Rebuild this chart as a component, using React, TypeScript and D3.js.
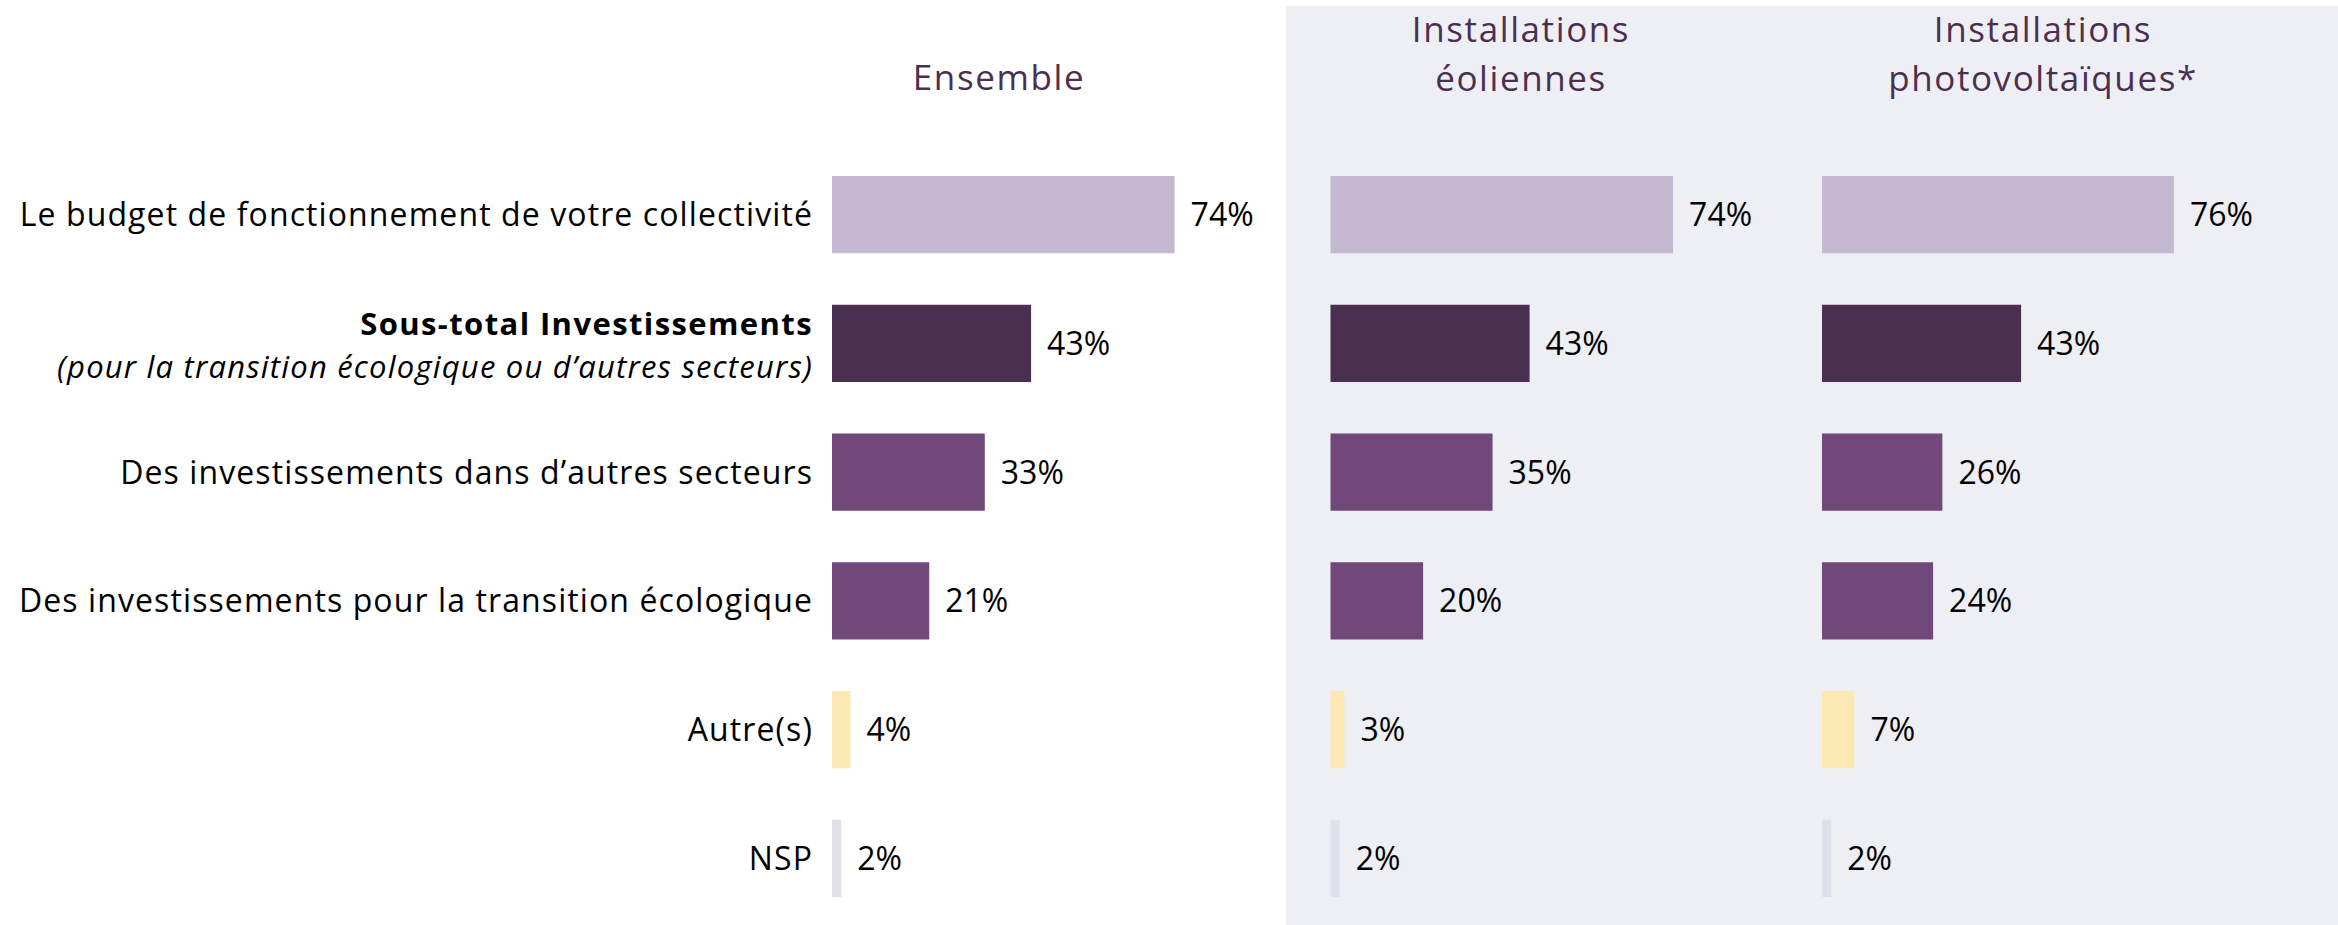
import React from 'react'
import * as d3 from 'd3'

// catégories (lignes)
const categories = [
  'Le budget de fonctionnement de votre collectivité',
  'Sous-total Investissements',
  'Des investissements dans d’autres secteurs',
  'Des investissements pour la transition écologique',
  'Autre(s)',
  'NSP'
]
const subtotalNote = '(pour la transition écologique ou d’autres secteurs)'

// en-têtes de colonnes
const columnTitles = [['Ensemble'], ['Installations', 'éoliennes'], ['Installations', 'photovoltaïques*']]

// valeurs en %
const ensembleValues = [74, 43, 33, 21, 4, 2]
const eoliennesValues = [74, 43, 35, 20, 3, 2]
const photovoltaiqueValues = [76, 43, 26, 24, 7, 2]
const seriesValues = [ensembleValues, eoliennesValues, photovoltaiqueValues]

const barColors = ['#c4b9d1', '#4b2f50', '#71487a', '#71487a', '#fce8b3', '#dfe0ea']

const W = 2338
const H = 925
const FONT = "'Open Sans', sans-serif"

// position de départ des barres pour chaque colonne, et centre des titres
const colX = [832, 1330.5, 1822]
const titleX = [999, 1521, 2043]

export default function App() {
  const y = d3.scaleBand<string>()
    .domain(categories)
    .range([176, 897])
    .paddingInner(0.4)
    .paddingOuter(0)

  const x = d3.scaleLinear().domain([0, 100]).range([0, 463])

  return (
    <div style={{ position: 'absolute', left: 0, top: 0 }}>
      <svg width={W} height={H} style={{ display: 'block', background: '#fff' }}>
        {/* panneau gris */}
        <rect x={1286} y={6} width={W - 1286} height={H - 6} fill="#eeeff5" />

        {/* titres */}
        {columnTitles.map((lines, ci) => (
          <text key={ci} x={titleX[ci]} textAnchor="middle" fill="#4a3050"
            fontFamily={FONT} fontSize={35} letterSpacing={1.6}>
            {lines.map((l, li) => (
              <tspan key={li} x={titleX[ci]} y={lines.length === 1 ? 90 : 42 + li * 49}>{l}</tspan>
            ))}
          </text>
        ))}

        {/* libellés des catégories */}
        {categories.map((c, i) => {
          const cy = (y(c) || 0) + y.bandwidth() / 2
          if (i === 1) {
            return (
              <text key={c} textAnchor="end" fontFamily={FONT} fontSize={31} fill="#000">
                <tspan x={813} y={cy - 8} fontWeight={700} letterSpacing={1.4}>{c}</tspan>
                <tspan x={813} y={cy + 34.5} fontStyle="italic" letterSpacing={1.2}>{subtotalNote}</tspan>
              </text>
            )
          }
          return (
            <text key={c} x={813} y={cy} dy="0.36em" textAnchor="end" fontFamily={FONT}
              fontSize={32} letterSpacing={1.1} fill="#000">{c}</text>
          )
        })}

        {/* barres */}
        {seriesValues.map((vals, ci) => (
          <g key={ci} transform={`translate(${colX[ci]},0)`}>
            {vals.map((v, i) => (
              <g key={i}>
                <rect x={0} y={y(categories[i])} width={x(v)} height={y.bandwidth()}
                  fill={barColors[i]} />
                <text x={x(v) + 16} y={(y(categories[i]) || 0) + y.bandwidth() / 2} dy="0.36em"
                  fontFamily={FONT} fontSize={32} fill="#000">{v}%</text>
              </g>
            ))}
          </g>
        ))}
      </svg>
    </div>
  )
}
